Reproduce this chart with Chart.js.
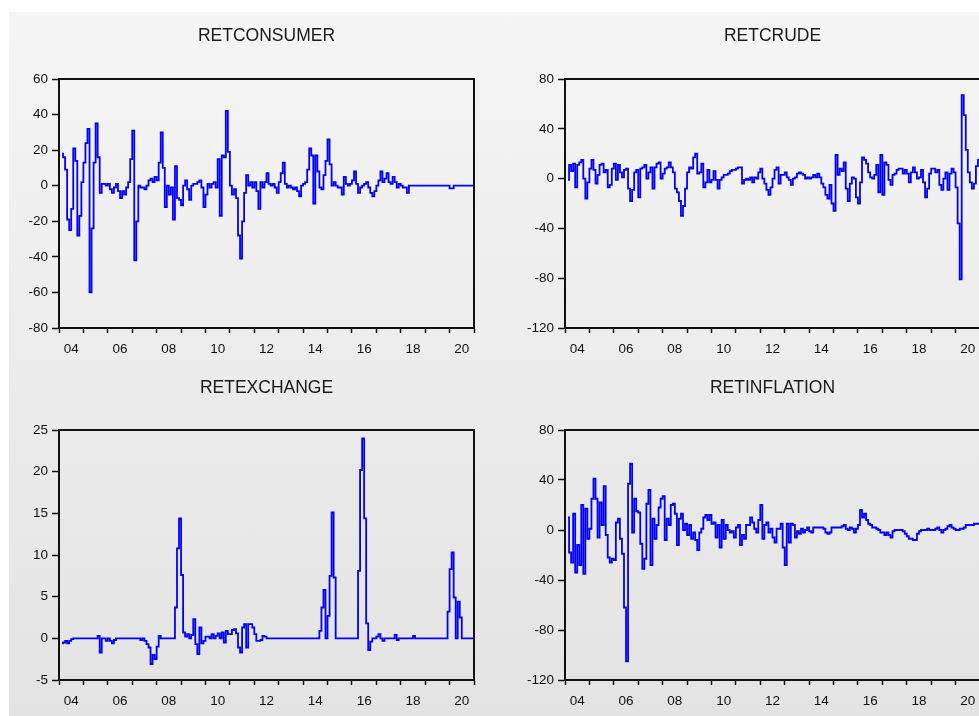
<!DOCTYPE html>
<html lang="en">
<head>
<meta charset="UTF-8">
<title>RET series</title>
<script src="https://cdn.jsdelivr.net/npm/chart.js"></script>
<style>
  html, body { margin: 0; padding: 0; background: #fff; }
  body { width: 979px; height: 716px; overflow: hidden; position: relative; }
  #bg { position: absolute; left: 9px; top: 12px; right: 0; bottom: 0;
        background: linear-gradient(to bottom, #f5f5f5, #e3e3e3); }
  canvas { position: absolute; }
</style>
</head>
<body>
<div id="bg"></div>
<canvas id="c1" width="490" height="355" style="left:0;top:0;width:490px;height:355px"></canvas>
<canvas id="c2" width="506" height="355" style="left:490px;top:0;width:506px;height:355px"></canvas>
<canvas id="c3" width="490" height="361" style="left:0;top:355px;width:490px;height:361px"></canvas>
<canvas id="c4" width="506" height="361" style="left:490px;top:355px;width:506px;height:361px"></canvas>

<script>
// monthly returns, 2004M02 .. 2020M12 (first obs = month 1 after 2004M01)
const firstMonth = 1;
const monthsInRange = 204; // 2004M01 .. 2020M12

const retConsumer = [
  18, 16, 9, -19, -25, -13, 21, 14, -28, -17,
  2, 13, 24, 32, -60, -24, 13, 35, 16, -4,
  1, 1, 0, 1, -2, -4, -1, 1, -3, -7,
  -3, -5, -1, 2, 15, 31, -42, -20, 0, -1,
  -1, -2, 0, 3, 4, 2, 5, 3, 13, 30,
  10, -12, 0, -5, -1, -19, 11, -7, -8, -11,
  0, 3, -2, -8, 0, 1, 1, 2, 3, -1,
  -12, -5, 1, -1, 1, 2, -1, 15, -17, 17,
  16, 42, 19, 0, -5, -2, -7, -28, -41, -20,
  -4, 6, 0, 2, -1, 2, -3, -13, 2, -1,
  2, 7, 1, 0, 1, -1, -4, 2, 7, 13,
  1, -1, 0, -1, -2, -1, -3, -6, 0, 1,
  2, 9, 21, 17, -10, 17, 8, -1, -2, 6,
  14, 26, 12, 0, 2, 0, -1, -1, -5, 5,
  1, 0, 1, 3, 8, 1, -4, -1, 0, 1,
  2, -1, -4, -6, -3, 0, 3, 8, 2, 4,
  7, 2, 1, 5, 2, -1, 1, 0, -1, -1,
  -4, 0, 0, 0, 0, 0, 0, 0, 0, 0,
  0, 0, 0, 0, 0, 0, 0, 0, 0, 0,
  0, -1.5, -1.5, 0, 0, 0, 0, 0, 0, 0,
  0, 0, 0
];

const retCrude = [
  -1, 11, 6, 12, -7, 11, 13, 15, 0, -16,
  -3, 8, 15, 7, -4, 3, 11, 12, 5, 7,
  -7, -5, 8, 12, -1, 11, 5, 1, 7, 8,
  -8, -18, -9, 5, 7, -15, 8, 9, 11, 0,
  5, 9, -8, 9, 12, 13, 0, 4, 8, 9,
  13, 9, 5, -8, -11, -18, -30, -22, -8, 5,
  9, 8, 17, 20, 4, 5, 12, -7, -3, 7,
  -3, -1, 6, -1, -8, -1, 1, 3, 3, 4,
  6, 7, 7, 8, 9, 9, -4, -1, 0, -1,
  1, -3, 1, 0, 5, 8, 0, -4, -9, -13,
  -7, 0, 7, 9, -4, 3, 3, 5, 1, -1,
  -5, 0, 1, 4, 5, 4, 3, 0, 1, 0,
  1, 3, 1, 4, 1, -4, -7, -13, -16, -5,
  -20, -26, 19, 3, 8, 6, 13, -8, -18, -4,
  1, 0, -15, -20, -3, 17, 15, 12, 5, 1,
  0, 3, 11, -11, 19, -13, 13, 11, -1, -5,
  3, 4, 7, 8, 8, 4, 7, 4, -3, 5,
  9, 5, 0, 1, 7, -3, -15, -8, 4, 8,
  8, 5, 7, -5, -9, 0, 5, -9, 4, 8,
  5, -7, -36, -81, 67, 51, 23, 5, -3, -8,
  -4, 10, 15
];

const retExchange = [
  -0.6, -0.5, -0.3, -0.6, -0.3, -0.1, 0, 0, 0, 0,
  0, 0, 0, 0, 0, 0, 0, 0, 0.3, -1.7,
  0, 0, -0.3, 0, -0.3, -0.6, -0.2, 0, 0, 0,
  0, 0, 0, 0, 0, 0, 0, 0, 0, -0.2,
  0, -0.3, -0.7, -1.1, -3.1, -2.0, -2.5, -1.0, 0.3, 0,
  0, 0, 0, 0, 0, 0, 3.7, 10.8, 14.4, 7.6,
  0.7, 0.2, 0.5, 0, 0.4, 2.3, -0.7, -1.9, 1.3, -0.6,
  -0.3, 0.2, 0.2, 0, 0.5, 0, 0.3, 0.6, 0, 0.7,
  -0.5, 0.9, 0.5, 0.5, 1.0, 1.1, 0.6, -1.1, -1.7, 1.3,
  1.7, -1.1, 1.7, 1.7, 1.3, 0.5, -0.3, -0.3, -0.2, 0.3,
  0.2, 0, 0, 0, 0, 0, 0, 0, 0, 0,
  0, 0, 0, 0, 0, 0, 0, 0, 0, 0,
  0, 0, 0, 0, 0, 0, 0, 0.9, 3.7, 5.8,
  0, 2.7, 7.5, 15.1, 7.3, 0, 0, 0, 0, 0,
  0, 0, 0, 0, 0, 0, 8.1, 20.2, 24, 14.4,
  1.8, -1.4, -0.4, 0, 0, 0.2, 0.5, 0, -0.3, 0,
  0, 0, 0, 0, 0.4, -0.2, 0, 0, 0, 0,
  0, 0, 0, 0.3, 0, 0, 0, 0, 0, 0,
  0, 0, 0, 0, 0, 0, 0, 0, 0, 0,
  3.2, 8.3, 10.3, 4.9, 0, 4.4, 2.5, 0, 0, 0,
  0, 0, 0
];

const retInflation = [
  10, -18, -26, 13, -34, -12, -28, 20, -35, 17,
  -7, 1, 25, 41, 25, -6, 22, 4, 35, -4,
  -22, -26, -23, -24, 6, 9, -7, -19, -62, -105,
  37, 53, -2, 25, 15, 14, -11, -31, -23, 21,
  32, -28, 9, -7, 4, 18, 25, 27, -8, 9,
  4, 20, 21, 13, -12, 9, 13, 0, 5, -4,
  4, -7, -2, -8, -16, -2, 1, 10, 12, 8,
  12, 5, 6, -6, 4, -14, 8, -7, 4, 0,
  -2, -1, -6, 2, 4, -12, -4, -7, 4, 4,
  10, 6, 1, -2, 8, 20, -7, 4, 6, -2,
  1, -6, -10, 1, 1, 5, -14, -28, 5, -10,
  5, 4, -6, -1, -3, 1, -2, 0, 2, -1,
  -2, 2, 2, 2, 2, 2, 1, -2, -3, -2,
  2, 2, 2, 2, 2, 3, 4, 1, 0, 2,
  1, -2, 1, 4, 16, 10, 13, 8, 5, 4,
  2, 2, 1, 0, -2, -2, -4, -2, -4, -6,
  -1, 0, 0, 0, 0, -1, -3, -5, -7, -7,
  -8, -8, -3, -1, 0, 0, 0, 1, 0, 0,
  0, 1, 2, 0, -2, 0, 1, 3, 4, 2,
  1, 0, 0, 1, 1, 2, 4, 4, 4, 4,
  5, 5, 5
];

const consumerTicks = [60, 40, 20, 0, -20, -40, -60, -80];
const crudeTicks = [80, 40, 0, -40, -80, -120];
const exchangeTicks = [25, 20, 15, 10, 5, 0, -5];
const inflationTicks = [80, 40, 0, -40, -80, -120];
const yearLabels = ['04', '06', '08', '10', '12', '14', '16', '18', '20'];

const FONT = '"Liberation Sans", Arial, sans-serif';
const INK = '#111';

// box around the plot area
const framePlugin = {
  id: 'frame',
  afterDatasetsDraw(chart) {
    const a = chart.chartArea, ctx = chart.ctx;
    ctx.save();
    ctx.strokeStyle = INK;
    ctx.lineWidth = 2;
    ctx.strokeRect(a.left, a.top, a.right - a.left, a.bottom - a.top);
    ctx.restore();
  }
};

function makeChart(id, title, values, yTicks, box) {
  const pts = values.map((v, k) => ({ x: firstMonth + k + 0.5, y: v }));
  return new Chart(document.getElementById(id), {
    type: 'line',
    data: { datasets: [{ data: pts, borderColor: '#0000ff', borderWidth: 1.8,
                         pointRadius: 0, stepped: 'middle', fill: false }] },
    options: {
      responsive: false,
      animation: false,
      devicePixelRatio: 1,
      layout: { padding: { left: 0, right: box.right, top: 0, bottom: 0 } },
      plugins: {
        legend: { display: false },
        tooltip: { enabled: false },
        title: {
          display: true, text: title, fullSize: false, color: '#1a1a1a',
          font: { family: FONT, size: 17.5, weight: 'normal', lineHeight: 1.2 },
          padding: { top: box.titleTop, bottom: box.titleBottom }
        }
      },
      scales: {
        x: {
          type: 'linear', min: 0, max: monthsInRange,
          afterBuildTicks: s => {
            const t = [];
            for (let v = 0; v <= monthsInRange; v += 6) t.push({ value: v });
            s.ticks = t;
          },
          afterFit: s => { s.height = box.xHeight; },
          grid: {
            drawOnChartArea: false, tickLength: 5, tickWidth: 1.5,
            tickColor: c => (c.tick && c.tick.value % 12 === 0) ? INK : 'rgba(0,0,0,0)'
          },
          border: { color: INK, width: 2 },
          ticks: {
            autoSkip: false, maxRotation: 0, minRotation: 0, padding: 8,
            color: '#111', font: { family: FONT, size: 13.5 },
            callback: v => ((v - 6) % 24 === 0) ? yearLabels[(v - 6) / 24] : ''
          }
        },
        y: {
          type: 'linear',
          min: Math.min(...yTicks), max: Math.max(...yTicks),
          afterBuildTicks: s => { s.ticks = yTicks.map(v => ({ value: v })); },
          afterFit: s => { s.width = box.yWidth; },
          grid: { drawOnChartArea: false, tickLength: 7, tickWidth: 1.5, tickColor: INK },
          border: { color: INK, width: 2 },
          ticks: {
            padding: 4, color: '#111', font: { family: FONT, size: 13.5 },
            callback: v => String(v)
          }
        }
      }
    },
    plugins: [framePlugin]
  });
}

const topBox = { yWidth: 59, xHeight: 27, right: 16, titleTop: 25.5, titleBottom: 32.5 };
const topBoxR = { yWidth: 75, xHeight: 27, right: 16, titleTop: 25.5, titleBottom: 32.5 };
const botBox = { yWidth: 59, xHeight: 36, right: 16, titleTop: 22.5, titleBottom: 31.5 };
const botBoxR = { yWidth: 75, xHeight: 36, right: 16, titleTop: 22.5, titleBottom: 31.5 };

makeChart('c1', 'RETCONSUMER', retConsumer, consumerTicks, topBox);
makeChart('c2', 'RETCRUDE', retCrude, crudeTicks, topBoxR);
makeChart('c3', 'RETEXCHANGE', retExchange, exchangeTicks, botBox);
makeChart('c4', 'RETINFLATION', retInflation, inflationTicks, botBoxR);
</script>
</body>
</html>
